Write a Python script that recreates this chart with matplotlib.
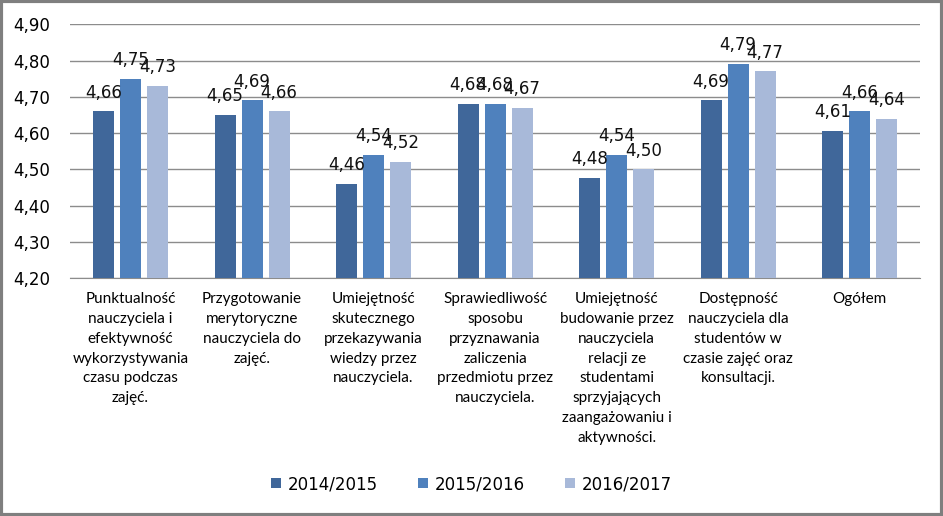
import numpy as np
import matplotlib
matplotlib.use("Agg")
import matplotlib.pyplot as plt

plt.rcParams['font.family'] = ['DejaVu Sans']

# Data
categories = [
    "Punktualność\nnauczyciela i\nefektywność\nwykorzystywania\nczasu podczas\nzajęć.",
    "Przygotowanie\nmerytoryczne\nnauczyciela do\nzajęć.",
    "Umiejętność\nskutecznego\nprzekazywania\nwiedzy przez\nnauczyciela.",
    "Sprawiedliwość\nsposobu\nprzyznawania\nzaliczenia\nprzedmiotu przez\nnauczyciela.",
    "Umiejętność\nbudowanie przez\nnauczyciela\nrelacji ze\nstudentami\nsprzyjających\nzaangażowaniu i\naktywności.",
    "Dostępność\nnauczyciela dla\nstudentów w\nczasie zajęć oraz\nkonsultacji.",
    "Ogółem",
]
years = ["2014/2015", "2015/2016", "2016/2017"]
v2014 = [4.66, 4.65, 4.46, 4.68, 4.476, 4.69, 4.606]
v2015 = [4.75, 4.69, 4.54, 4.68, 4.54, 4.79, 4.66]
v2016 = [4.73, 4.66, 4.52, 4.67, 4.50, 4.77, 4.64]
colors = ["#40679A", "#4F81BD", "#A8B9D9"]

fig = plt.figure(figsize=(9.43, 5.16), dpi=100)
ax = fig.add_axes([0.074, 0.461, 0.902, 0.492])

x = np.arange(len(categories))
width = 0.173
step = 0.222
for i, (vals, col, yr) in enumerate(zip([v2014, v2015, v2016], colors, years)):
    pos = x + (i - 1) * step
    ax.bar(pos, np.array(vals) - 4.2, width, bottom=4.2, color=col, label=yr, zorder=3)
    for p, v in zip(pos, vals):
        ax.text(p, v + 0.038, f"{v:.2f}".replace(".", ","), ha="center", va="baseline",
                fontsize=12, color="#111111", zorder=4)

ax.set_ylim(4.2, 4.9)
ax.set_xlim(-0.5, len(categories) - 0.5)
yt = np.arange(4.2, 4.91, 0.1)
ax.set_yticks(yt)
ax.set_yticklabels([f"{t:.2f}".replace(".", ",") for t in yt], fontsize=12)
ax.set_xticks(x)
ax.set_xticklabels(categories, fontsize=11, linespacing=1.53, va="top",
                   family=['Lato', 'DejaVu Sans'])
ax.tick_params(axis="y", length=0, pad=14)
ax.tick_params(axis="x", length=0, pad=10)
ax.grid(axis="y", color="#8C8C8C", linewidth=1, zorder=0)
for s in ["left", "right", "top"]:
    ax.spines[s].set_visible(False)
ax.spines["bottom"].set_color("#8C8C8C")

fig.legend(loc="center", bbox_to_anchor=(0.5, 0.062), ncol=3, frameon=False,
           fontsize=12, handlelength=0.6, handleheight=0.6, handletextpad=0.4,
           columnspacing=2.4)

# outer border
fig.patches.append(plt.Rectangle((0.0015, 0.0025), 0.997, 0.995, transform=fig.transFigure,
                                 fill=False, edgecolor="#7F7F7F", linewidth=3))

fig.savefig("out.png", dpi=100)
